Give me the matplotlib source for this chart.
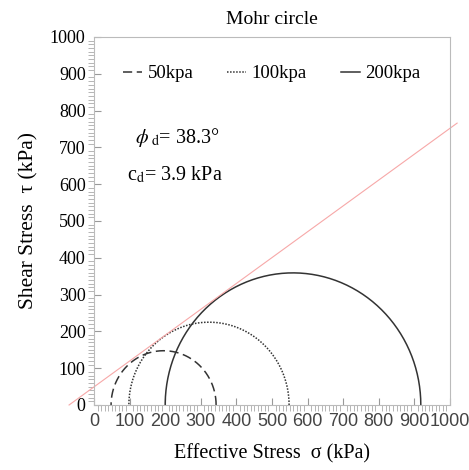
import numpy as np
import matplotlib.pyplot as plt

plt.rcParams['font.family'] = ['Liberation Serif', 'DejaVu Serif']
plt.rcParams['mathtext.fontset'] = 'stix'

# confining pressure labels and principal stresses (kPa)
labels = ['50kpa', '100kpa', '200kpa']
sigma3 = [48, 98, 200]
sigma1 = [343, 548, 918]
styles = [(0, (6, 3)), (0, (1, 1)), '-']

# failure envelope end points
env_x = [-70, 1020]
env_y = [0, 766]

fig = plt.figure(figsize=(4.69, 4.70), dpi=100)
ax = fig.add_axes([0.2004, 0.1383, 0.7591, 0.783])

th = np.linspace(0, np.pi, 200)
for s3, s1, ls, lab in zip(sigma3, sigma1, styles, labels):
    c = (s1 + s3) / 2.0
    r = (s1 - s3) / 2.0
    ax.plot(c + r * np.cos(th), r * np.sin(th), color='#333333', lw=1.1,
            linestyle=ls, label=lab)

ax.plot(env_x, env_y, color='#f7a8a8', lw=0.8, clip_on=False)

ax.set_xlim(0, 1000)
ax.set_ylim(0, 1000)
ax.set_xticks(np.arange(0, 1001, 100))
ax.set_yticks(np.arange(0, 1001, 100))
ax.set_xticks(np.arange(0, 1001, 10), minor=True)
ax.set_yticks(np.arange(0, 1001, 10), minor=True)
for lab in ax.get_xticklabels():
    lab.set_fontfamily('Liberation Sans')
    lab.set_color('#444444')
ax.tick_params(which='major', direction='in', length=5, color='#999999',
               labelsize=13, pad=6)
ax.tick_params(which='minor', direction='out', length=4, color='#aaaaaa',
               width=0.6)
for sp in ax.spines.values():
    sp.set_color('#bbbbbb')

ax.set_title('Mohr circle', fontsize=14, pad=9)
ax.set_xlabel('Effective Stress  σ (kPa)', fontsize=14.5, labelpad=10)
ax.set_ylabel('Shear Stress  τ (kPa)', fontsize=15.5, labelpad=8)

ax.legend(loc='center', bbox_to_anchor=(0.5, 0.9), ncol=3, frameon=False,
          fontsize=13.5, handlelength=1.0, handletextpad=0.3,
          columnspacing=1.8)

ax.text(0.115, 0.726, r'$\phi_{\rm\ d}$= 38.3°', transform=ax.transAxes,
        fontsize=14.5, va='center')
ax.text(0.093, 0.625, r'c$_{\rm d}$= 3.9 kPa', transform=ax.transAxes,
        fontsize=14.5, va='center')

fig.savefig('out.png', dpi=100)
